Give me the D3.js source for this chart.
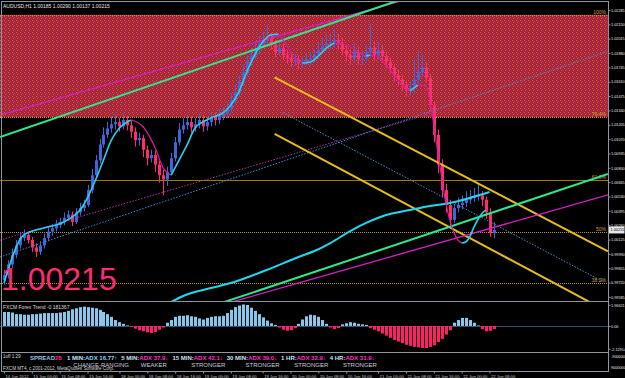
<!DOCTYPE html>
<html>
<head>
<meta charset="utf-8">
<script src="https://cdn.jsdelivr.net/npm/d3@7"></script>
<style>
  html, body { margin: 0; padding: 0; background: #000; }
  svg { display: block; font-family: "Liberation Sans", Arial, sans-serif; }
</style>
</head>
<body>
<svg id="chart" width="625" height="378"></svg>
<script>
// ---------- data ----------
const headerText = "AUDUSD,H1  1.00185 1.00290 1.00137 1.00215";
const lastPrice = 1.00215;
const firstOpen = 0.9974;

// hourly candles, 14 Jun 17:00 .. 22 Jun
const closes = [
  0.9979, 0.9989, 0.9998, 1.0007, 1.0014, 1.0017, 1.0012, 1.0005, 1.0001, 1.0007,
  1.0014, 1.0020, 1.0023, 1.0026, 1.0029, 1.0033, 1.0036, 1.0029, 1.0038, 1.0042,
  1.0045, 1.0059, 1.0073, 1.0087, 1.0102, 1.0111, 1.0117, 1.0121, 1.0123, 1.0119,
  1.0125, 1.0120, 1.0114, 1.0106, 1.0108, 1.0097, 1.0089, 1.0092, 1.0083, 1.0073,
  1.0069, 1.0076, 1.0089, 1.0104, 1.0116, 1.0120, 1.0123, 1.0118, 1.0121, 1.0125,
  1.0119, 1.0123, 1.0127, 1.0125, 1.0129, 1.0131, 1.0136, 1.0144, 1.0151, 1.0161,
  1.0170, 1.0180, 1.0186, 1.0191, 1.0197, 1.0200, 1.0202, 1.0196, 1.0189, 1.0193,
  1.0186, 1.0183, 1.0180, 1.0182, 1.0178, 1.0180, 1.0182, 1.0183, 1.0186, 1.0191,
  1.0195, 1.0197, 1.0198, 1.0200, 1.0197, 1.0191, 1.0186, 1.0183, 1.0189, 1.0182,
  1.0183, 1.0189, 1.0193, 1.0186, 1.0191, 1.0185, 1.0180, 1.0174, 1.0167, 1.0163,
  1.0158, 1.0153, 1.0155, 1.0163, 1.0170, 1.0174, 1.0165, 1.0139, 1.0111, 1.0083,
  1.0059, 1.0045, 1.0031, 1.0042, 1.0045, 1.0047, 1.0050, 1.0052, 1.0053, 1.0054,
  1.0050, 1.0038, 1.00185, 1.00215
];
const highs = [
  0.9984, 0.9993, 1.0004, 1.0012, 1.0019, 1.0022, 1.0020, 1.0015, 1.0009, 1.0011,
  1.0018, 1.0024, 1.0027, 1.0031, 1.0033, 1.0038, 1.0040, 1.0039, 1.0042, 1.0047,
  1.0050, 1.0064, 1.0079, 1.0092, 1.0107, 1.0118, 1.0123, 1.0128, 1.0130, 1.0127,
  1.0131, 1.0129, 1.0124, 1.0118, 1.0113, 1.0111, 1.0101, 1.0097, 1.0096, 1.0087,
  1.0078, 1.0081, 1.0094, 1.0109, 1.0122, 1.0127, 1.0130, 1.0128, 1.0127, 1.0131,
  1.0130, 1.0128, 1.0133, 1.0132, 1.0135, 1.0137, 1.0142, 1.0150, 1.0158, 1.0167,
  1.0177, 1.0186, 1.0193, 1.0198, 1.0204, 1.0208, 1.0214, 1.0207, 1.0200, 1.0198,
  1.0197, 1.0191, 1.0188, 1.0187, 1.0186, 1.0185, 1.0187, 1.0189, 1.0192, 1.0198,
  1.0202, 1.0205, 1.0206, 1.0211, 1.0206, 1.0202, 1.0196, 1.0192, 1.0197, 1.0194,
  1.0190, 1.0196, 1.0216, 1.0199, 1.0198, 1.0196, 1.0189, 1.0184, 1.0178, 1.0172,
  1.0167, 1.0162, 1.0162, 1.0182, 1.0190, 1.0186, 1.0179, 1.0168, 1.0142, 1.0116,
  1.0088, 1.0065, 1.0050, 1.0046, 1.0052, 1.0054, 1.0058, 1.0059, 1.0061, 1.0064,
  1.0058, 1.0053, 1.0042, 1.0029
];
const lows = [
  0.9970, 0.9976, 0.9986, 0.9995, 1.0004, 1.0011, 1.0009, 1.0001, 0.9996, 0.9998,
  1.0004, 1.0011, 1.0016, 1.0020, 1.0023, 1.0026, 1.0030, 1.0025, 1.0027, 1.0035,
  1.0039, 1.0043, 1.0056, 1.0070, 1.0084, 1.0099, 1.0108, 1.0113, 1.0116, 1.0114,
  1.0116, 1.0115, 1.0108, 1.0100, 1.0101, 1.0090, 1.0082, 1.0085, 1.0076, 1.0066,
  1.0054, 1.0063, 1.0073, 1.0086, 1.0101, 1.0112, 1.0116, 1.0113, 1.0114, 1.0117,
  1.0114, 1.0115, 1.0119, 1.0120, 1.0121, 1.0125, 1.0127, 1.0132, 1.0140, 1.0147,
  1.0157, 1.0166, 1.0176, 1.0182, 1.0187, 1.0193, 1.0196, 1.0191, 1.0184, 1.0185,
  1.0181, 1.0178, 1.0175, 1.0176, 1.0173, 1.0174, 1.0176, 1.0177, 1.0179, 1.0182,
  1.0187, 1.0190, 1.0192, 1.0193, 1.0191, 1.0186, 1.0180, 1.0177, 1.0179, 1.0177,
  1.0176, 1.0179, 1.0185, 1.0181, 1.0182, 1.0179, 1.0174, 1.0168, 1.0161, 1.0157,
  1.0152, 1.0147, 1.0148, 1.0151, 1.0159, 1.0166, 1.0160, 1.0133, 1.0104, 1.0075,
  1.0052, 1.0038, 1.0026, 1.0028, 1.0038, 1.0041, 1.0043, 1.0046, 1.0048, 1.0049,
  1.0044, 1.0032, 1.0015, 1.00137
];

// FXCM Forex Trend histogram, one value per candle
const trendTitle = "FXCM Forex Trend -0.181367";
const trendValues = [
  1.3, 1.3, 1.25, 1.1, 1.1, 1.05, 1.05, 1.1, 1.1, 1.15,
  1.2, 1.2, 1.2, 1.2, 1.25, 1.3, 1.4, 1.55, 1.65, 1.75,
  1.8, 1.75, 1.7, 1.65, 1.5, 1.3, 1.1, 0.85, 0.55, 0.35,
  0.2, 0.05, -0.1, -0.25, -0.4, -0.5, -0.6, -0.65, -0.55, -0.35,
  -0.15, 0.3, 0.55, 0.85, 0.95, 0.95, 1.0, 0.9, 0.85, 0.7,
  0.6, 0.75, 0.85, 0.9, 0.9, 0.95, 1.2, 1.5, 1.75, 1.9,
  2.0, 1.95, 1.7, 1.4, 1.1, 0.8, 0.5, 0.25, 0.1, -0.15,
  -0.35, -0.45, -0.4, -0.2, 0.2, 0.6, 0.9, 1.05, 1.0, 0.85,
  0.55, 0.2, -0.15, -0.3, -0.2, 0.15, 0.25, 0.35, 0.3, 0.2,
  0.15, 0.1, -0.2, -0.35, -0.5, -0.7, -0.9, -1.1, -1.3, -1.45,
  -1.6, -1.75, -1.85, -1.95, -2.0, -2.05, -2.05, -1.95, -1.8, -1.5,
  -1.2, -0.8, -0.4, 0.3, 0.55, 0.75, 0.75, 0.55, 0.3, 0.05,
  -0.3, -0.5, -0.45, -0.3
];
const trendTicks = [1.96621, 0, -2.12914];
const trendTickLabels = ["1.96621", "0.00", "-2.12914"];

// moving averages: [bar, price] knots
const maFast = [
  [0, 0.99716], [5, 1.00168], [10, 1.00234], [15, 1.00290], [20, 1.00450], [23, 1.00685],
  [25, 1.00873], [27, 1.01062], [29, 1.01174], [32, 1.01250], [35, 1.01184], [38, 1.00986],
  [40, 1.00798], [42, 1.00732], [44, 1.00873], [46, 1.01015], [48, 1.01174], [50, 1.01231],
  [52, 1.01269], [55, 1.01316], [57, 1.01391], [59, 1.01513], [61, 1.01701], [63, 1.01861],
  [65, 1.01984], [67, 1.02050], [69, 1.02059], [71, 1.01956], [73, 1.01833], [75, 1.01786],
  [77, 1.01796], [79, 1.01852], [81, 1.01927], [83, 1.01974], [85, 1.01965], [87, 1.01937],
  [89, 1.01890], [91, 1.01852], [92, 1.01861], [94, 1.01843], [96, 1.01767], [98, 1.01673],
  [100, 1.01579], [102, 1.01523], [104, 1.01579], [106, 1.01570], [107, 1.01438], [108, 1.01203],
  [109, 1.00949], [110, 1.00704], [111, 1.00478], [112, 1.00309], [113, 1.00196], [114, 1.00121],
  [115, 1.00092], [116, 1.00102], [117, 1.00149], [118, 1.00234], [119, 1.00309], [120, 1.00365],
  [121, 1.00403]
];
const maSlow = [
  [42, 0.99537], [45, 0.99594], [52, 0.99669], [57, 0.99716], [66, 0.99838], [74, 0.99961],
  [78, 1.00017], [82, 1.00092], [87, 1.00205], [91, 1.00281], [96, 1.00356], [102, 1.00403],
  [107, 1.00441], [112, 1.00469], [117, 1.00516], [122, 1.00572]
];

// trend lines: [bar1, price1, bar2, price2]
const greenChannel = [[20, 1.0136, 80, 1.0213], [74, 0.9977, 102, 1.0012]];
const magentaChannel = [[20, 1.0152, 80, 1.0216], [80, 0.9978, 110, 1.0010]];
const yellowChannel = [[68, 1.0165, 110, 1.0083], [68, 1.0112, 110, 1.0028]];
const blueDotDown = [70, 1.0132, 110, 1.0053];
const blueDotUp = [10, 1.0010, 100, 1.0124];
const magentaDotUp = [10, 1.0024, 90, 1.0112];
const magentaDotEnd = 107;

// Fibonacci retracement
const fibHigh = 1.0224, fibLow = 0.9816;
const fibLevels = [100, 76.4, 61.8, 50, 38.2];
const fibLabels = ["100%", "76.4%", "61.8%", "50%", "38.2%"];

const priceTicks = ["1.02285", "1.02150", "1.02015", "1.01880", "1.01745", "1.01610", "1.01475",
  "1.01340", "1.01205", "1.01070", "1.00935", "1.00800", "1.00665", "1.00530", "1.00395",
  "1.00260", "1.00125", "0.99990", "0.99855", "0.99720", "0.99585"];

const timeLabels = ["14 Jun 2012", "15 Jun 00:00", "15 Jun 08:00", "15 Jun 16:00", "18 Jun 00:00",
  "18 Jun 08:00", "18 Jun 16:00", "19 Jun 00:00", "19 Jun 08:00", "19 Jun 16:00", "20 Jun 00:00",
  "20 Jun 08:00", "20 Jun 16:00", "21 Jun 00:00", "21 Jun 08:00", "21 Jun 16:00", "22 Jun 00:00",
  "22 Jun 08:00"];
const timeLabelBars = [0, 7, 14, 21, 29, 36, 43, 50, 57, 65, 72, 79, 86, 94, 101, 108, 115, 122];

// dashboard panel
const spreadValue = "28";
const adxFrames = ["1 MIN", "5 MIN", "15 MIN", "30 MIN", "1 HR", "4 HR"];
const adxValues = ["16.77", "37.9", "42.1", "39.0", "32.9", "31.9"];
const adxArrows = ["↑", "↓", "↓", "↓", "↓", "↓"];
const adxStates = ["CHANGE-RANGING", "WEAKER", "STRONGER", "STRONGER", "STRONGER", "STRONGER"];
const panelTicks = ["-900000", "9000000"];
const panelNote = "1off 1:29";
const copyright = "FXCM MT4, c 2001-2012, MetaQuotes Software Corp.";

// ---------- drawing ----------
const W = 625, H = 378;
const axisX = 608.5;
const frameColor = "#8f96a0";
const tickFont = 3.8;

const svg = d3.select("#chart");
svg.append("rect").attr("width", W).attr("height", H).attr("fill", "#000");

const x = d3.scaleLinear().domain([0, closes.length - 1]).range([4, 493.5]);
const y = d3.scaleLinear().domain([0.99556, 1.02379]).range([300, 0]);
const yT = d3.scaleLinear().domain([-2.33, 2.23]).range([351, 302]);
const xLeft = x.invert(0), xRight = x.invert(608);

const defs = svg.append("defs");
const pat = defs.append("pattern").attr("id", "zone")
  .attr("patternUnits", "userSpaceOnUse").attr("width", 4).attr("height", 4);
pat.append("rect").attr("width", 4).attr("height", 4).attr("fill", "#a2243a");
[[0, 0, "#e2602c"], [2, 1, "#cc3a66"], [1, 2, "#dc5a30"], [3, 3, "#b83048"]].forEach(p =>
  pat.append("rect").attr("x", p[0]).attr("y", p[1]).attr("width", 1).attr("height", 1).attr("fill", p[2]));
defs.append("clipPath").attr("id", "mainClip")
  .append("rect").attr("x", 0).attr("y", 2).attr("width", 608).attr("height", 299);
defs.append("clipPath").attr("id", "subClip")
  .append("rect").attr("x", 0).attr("y", 302).attr("width", 608).attr("height", 49);

const main = svg.append("g").attr("clip-path", "url(#mainClip)");

// fib zone and levels
const fibPrice = lvl => fibLow + (fibHigh - fibLow) * lvl / 100;
main.append("rect")
  .attr("x", 0).attr("width", 608)
  .attr("y", y(fibPrice(fibLevels[0])))
  .attr("height", y(fibPrice(fibLevels[1])) - y(fibPrice(fibLevels[0])))
  .attr("fill", "url(#zone)");

main.selectAll("line.fib").data(fibLevels).enter().append("line")
  .attr("class", "fib")
  .attr("x1", 0).attr("x2", 608)
  .attr("y1", d => Math.round(y(fibPrice(d))) + 0.5)
  .attr("y2", d => Math.round(y(fibPrice(d))) + 0.5)
  .attr("stroke", d => d === 61.8 ? "#9a7a12" : "#b89420")
  .attr("stroke-dasharray", d => d === 61.8 ? null : "1,1");

main.selectAll("text.fib").data(fibLevels).enter().append("text")
  .attr("class", "fib")
  .attr("x", 606).attr("y", d => y(fibPrice(d)) - 1)
  .attr("text-anchor", "end")
  .attr("font-size", 5).attr("fill", "#c8a030")
  .text((d, i) => fibLabels[i]);

// candles
const bars = closes.map((c, i) => ({
  i, c, o: i === 0 ? firstOpen : closes[i - 1], h: highs[i], l: lows[i]
}));
const bull = "#4166dc", bear = "#ff2d6e";
const candle = main.append("g").selectAll("g").data(bars).enter().append("g");
candle.append("line")
  .attr("x1", d => Math.round(x(d.i)) + 0.5).attr("x2", d => Math.round(x(d.i)) + 0.5)
  .attr("y1", d => y(d.h)).attr("y2", d => y(d.l))
  .attr("stroke", d => d.c >= d.o ? bull : bear);
candle.append("rect")
  .attr("x", d => Math.round(x(d.i)) - 1).attr("width", 3)
  .attr("y", d => y(Math.max(d.o, d.c)))
  .attr("height", d => Math.max(1, Math.abs(y(d.o) - y(d.c))))
  .attr("fill", d => d.c >= d.o ? bull : bear);

// trend lines
const at = (a, b) => a[1] + (a[3] - a[1]) * (b - a[0]) / (a[2] - a[0]);
function trend(a, from, to, color, width, dash) {
  main.append("line")
    .attr("x1", x(from)).attr("y1", y(at(a, from)))
    .attr("x2", x(to)).attr("y2", y(at(a, to)))
    .attr("stroke", color).attr("stroke-width", width)
    .attr("stroke-dasharray", dash || null);
}
trend(blueDotUp, xLeft, xRight, "#3a8fd8", 1, "1.5,1.5");
trend(magentaDotUp, xLeft, magentaDotEnd, "#b02fa8", 1, "1.5,1.5");
trend(blueDotDown, blueDotDown[0], xRight - 1, "#3a8fd8", 1, "1.5,1.5");
yellowChannel.forEach(a => trend(a, a[0], xRight, "#e6bc1e", 2));
magentaChannel.forEach(a => trend(a, xLeft, xRight, "#d81ec8", 1.3));
greenChannel.forEach(a => trend(a, xLeft, xRight, "#2ee68c", 2));

// moving averages
const maLine = d3.line().x(d => x(d[0])).y(d => y(d[1])).curve(d3.curveMonotoneX);
main.append("path").datum(maSlow).attr("d", maLine)
  .attr("fill", "none").attr("stroke", "#22d6ee").attr("stroke-width", 2);

// split the fast MA into rising / falling runs
const runs = [];
maFast.forEach((p, k) => {
  if (k === 0) return;
  const up = p[1] >= maFast[k - 1][1];
  const last = runs[runs.length - 1];
  if (last && last.up === up) last.pts.push(p);
  else runs.push({ up, pts: [maFast[k - 1], p] });
});
main.selectAll("path.fast").data(runs).enter().append("path")
  .attr("class", "fast")
  .attr("d", d => maLine(d.pts))
  .attr("fill", "none")
  .attr("stroke", d => d.up ? "#22d4f0" : "#d21ea8")
  .attr("stroke-width", d => d.up ? 1.6 : 1.2);

// big price
main.append("text")
  .attr("x", 1).attr("y", 290)
  .attr("font-size", 32).attr("fill", "#ff2d6f")
  .text(d3.format(".5f")(lastPrice));

svg.append("text").attr("x", 3).attr("y", 7.5)
  .attr("font-size", 5).attr("fill", "#e6e6e6")
  .text(headerText);

// FXCM Forex Trend sub window
const sub = svg.append("g").attr("clip-path", "url(#subClip)");
sub.append("line").attr("x1", 0).attr("x2", 608)
  .attr("y1", Math.round(yT(0)) + 0.5).attr("y2", Math.round(yT(0)) + 0.5)
  .attr("stroke", "#33506a");
sub.selectAll("rect.hist").data(trendValues).enter().append("rect")
  .attr("class", "hist")
  .attr("x", (d, i) => Math.round(x(i)) - 1).attr("width", 3)
  .attr("y", d => Math.min(yT(d), yT(0)))
  .attr("height", d => Math.abs(yT(d) - yT(0)))
  .attr("fill", d => d >= 0 ? "#86c9ec" : "#ff1f6d");
svg.append("text").attr("x", 3).attr("y", 308.5)
  .attr("font-size", 5).attr("fill", "#dcdcdc").text(trendTitle);

// frame
const frame = svg.append("g").attr("stroke", frameColor).attr("fill", "none");
frame.append("rect").attr("x", 1.5).attr("y", 1.5).attr("width", axisX - 1.5).attr("height", 370);
[301.5, 352.5].forEach(v => frame.append("line").attr("x1", 1.5).attr("x2", axisX).attr("y1", v).attr("y2", v));

// right-hand axes
function styleAxis(g) {
  g.select(".domain").remove();
  g.selectAll("line").attr("stroke", frameColor);
  g.selectAll("text").attr("font-size", tickFont).attr("fill", "#e8e8e8")
    .attr("font-family", "Liberation Sans, Arial, sans-serif");
}
svg.append("g").attr("transform", `translate(${axisX},0)`)
  .call(d3.axisRight(y).tickValues(priceTicks.map(Number))
    .tickFormat((d, i) => priceTicks[i]).tickSize(2).tickPadding(0.5))
  .call(styleAxis);

const cur = svg.append("g").attr("transform", `translate(609,${y(lastPrice)})`);
cur.append("rect").attr("x", 0).attr("y", -3.5).attr("width", 15.5).attr("height", 7).attr("fill", "#e6e6e6");
cur.append("text").attr("x", 1.5).attr("y", 1.4).attr("font-size", tickFont).attr("fill", "#000")
  .text(d3.format(".5f")(lastPrice));

svg.append("g").attr("transform", `translate(${axisX},0)`)
  .call(d3.axisRight(yT).tickValues(trendTicks)
    .tickFormat((d, i) => trendTickLabels[i]).tickSize(2).tickPadding(0.5))
  .call(styleAxis);

svg.selectAll("text.ptick").data(panelTicks).enter().append("text")
  .attr("class", "ptick")
  .attr("x", 611).attr("y", (d, i) => i === 0 ? 358 : 369)
  .attr("font-size", tickFont).attr("fill", "#e8e8e8")
  .text(d => d);

// dashboard texts
const panel = svg.append("g").attr("font-weight", "bold").attr("font-size", 6);
panel.append("text").attr("x", 3).attr("y", 358).attr("font-weight", "normal")
  .attr("font-size", 4.5).attr("fill", "#dcdcdc").text(panelNote);
const sp = panel.append("text").attr("x", 30).attr("y", 359.5).attr("fill", "#9cc4e6").text("SPREAD");
let cx = 30 + sp.node().getComputedTextLength();
panel.append("text").attr("x", cx).attr("y", 359.5).attr("fill", "#ff2d9c").text(spreadValue);
cx = 67;
const adxCenters = [];
adxFrames.forEach((f, i) => {
  const lab = panel.append("text").attr("x", cx).attr("y", 359.5).attr("fill", "#cfe2f6").text(f + ":");
  cx += lab.node().getComputedTextLength();
  const val = panel.append("text").attr("x", cx).attr("y", 359.5)
    .attr("fill", adxArrows[i] === "↑" ? "#8cd2fa" : "#ff30c8")
    .text("ADX " + adxValues[i] + adxArrows[i]);
  const w = val.node().getComputedTextLength();
  adxCenters.push(cx + w / 2);
  cx += w + 4;
});
svg.append("text").attr("x", 3).attr("y", 369.5)
  .attr("font-size", 4.6).attr("fill", "#d8d8d8").text(copyright);
svg.selectAll("text.state").data(adxStates).enter().append("text")
  .attr("class", "state")
  .attr("x", (d, i) => adxCenters[i]).attr("y", 367)
  .attr("text-anchor", "middle").attr("font-size", 6).attr("fill", "#c6cedc")
  .text(d => d);

// time axis
const timeAxis = svg.append("g").attr("transform", "translate(0,371.5)")
  .call(d3.axisBottom(x).tickValues(timeLabelBars)
    .tickFormat((d, i) => timeLabels[i]).tickSize(2).tickPadding(0));
timeAxis.select(".domain").remove();
timeAxis.selectAll("line").attr("stroke", frameColor);
timeAxis.selectAll("text").attr("font-size", 4.2).attr("fill", "#c4c4c4")
  .attr("text-anchor", "start").attr("dx", 1).attr("dy", 0).attr("y", 6)
  .attr("font-family", "Liberation Sans, Arial, sans-serif");
</script>
</body>
</html>
